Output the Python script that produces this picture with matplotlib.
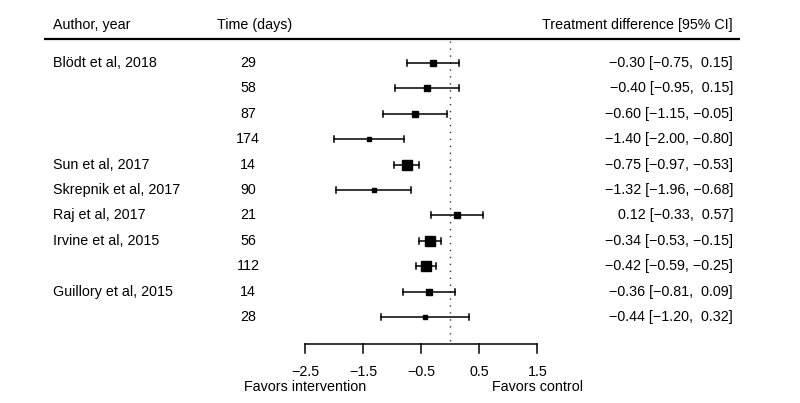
import matplotlib
matplotlib.use("Agg")
import matplotlib.pyplot as plt

plt.rcParams['font.family'] = ['Liberation Sans', 'DejaVu Sans']

# ---------------- data ----------------
authors = ["Blödt et al, 2018", "", "", "", "Sun et al, 2017", "Skrepnik et al, 2017",
           "Raj et al, 2017", "Irvine et al, 2015", "", "Guillory et al, 2015", ""]
times = [29, 58, 87, 174, 14, 90, 21, 56, 112, 14, 28]
estimates = [-0.30, -0.40, -0.60, -1.40, -0.75, -1.32, 0.12, -0.34, -0.42, -0.36, -0.44]
ci_lower = [-0.75, -0.95, -1.15, -2.00, -0.97, -1.96, -0.33, -0.53, -0.59, -0.81, -1.20]
ci_upper = [0.15, 0.15, -0.05, -0.80, -0.53, -0.68, 0.57, -0.15, -0.25, 0.09, 0.32]
rel_weight = [6.0, 5.3, 5.3, 4.7, 9.3, 4.3, 6.7, 9.7, 10.0, 6.7, 3.3]
xticks = [-2.5, -1.5, -0.5, 0.5, 1.5]
headers = ["Author, year", "Time (days)", "Treatment difference [95% CI]"]
fav_labels = ["Favors intervention", "Favors control"]

# ---------------- layout helpers ----------------
W, H = 800, 403
X0, SCALE = 450.2, 58.08          # pixel of zero, pixels per unit
Y0, ROWH = 63.0, 25.4             # pixel of first row, pixels per row


def px(x):
    return (x - X0) / SCALE


def py(y):
    return (y - Y0) / ROWH


def fmt(v):
    s = f"{v:.2f}".replace("-", "\u2212")
    return s if v < 0 else " " + s


fig = plt.figure(figsize=(W / 100, H / 100), dpi=100)
ax = fig.add_axes([0, 0, 1, 1])
ax.set_xlim(px(0), px(W))
ax.set_ylim(py(H), py(0))
ax.axis("off")

FS = 10.3
LW = 1.1
n = len(estimates)
rows = list(range(n))

# header
ax.text(px(53), py(25), headers[0], ha="left", va="center", fontsize=FS)
ax.text(px(217), py(25), headers[1], ha="left", va="center", fontsize=FS)
ax.text(px(733), py(25), headers[2], ha="right", va="center", fontsize=FS)
ax.plot([px(44), px(740)], [py(39), py(39)], color="black", lw=1.6, solid_capstyle="butt")

# reference line
ax.plot([0, 0], [py(41), py(341)], color="#333333", lw=1.0, linestyle=(0, (1, 4)))

# rows
cap = 3.0 / ROWH
for i in rows:
    ax.text(px(53), i, authors[i], ha="left", va="center", fontsize=FS)
    ax.text(px(248), i, str(times[i]), ha="center", va="center", fontsize=FS)
    txt = f"{fmt(estimates[i])} [{fmt(ci_lower[i])}, {fmt(ci_upper[i])}]"
    ax.text(px(733), i, txt, ha="right", va="center", fontsize=FS)
    ax.plot([ci_lower[i], ci_upper[i]], [i, i], color="black", lw=LW)
    for e in (ci_lower[i], ci_upper[i]):
        ax.plot([e, e], [i - cap, i + cap], color="black", lw=LW)
    ax.plot(estimates[i], i, marker="s", color="black", markersize=rel_weight[i] * 0.72,
            linestyle="none")

# x axis
yax = py(344)
ax.plot([xticks[0], xticks[-1]], [yax, yax], color="black", lw=LW)
for t in xticks:
    ax.plot([t, t], [yax, py(353)], color="black", lw=LW)
    ax.text(t, py(372), f"{t:g}".replace("-", "\u2212"), ha="center", va="center", fontsize=FS)
ax.text(xticks[0], py(387), fav_labels[0], ha="center", va="center", fontsize=FS)
ax.text(xticks[-1], py(387), fav_labels[1], ha="center", va="center", fontsize=FS)

fig.savefig("out.png", dpi=100)
